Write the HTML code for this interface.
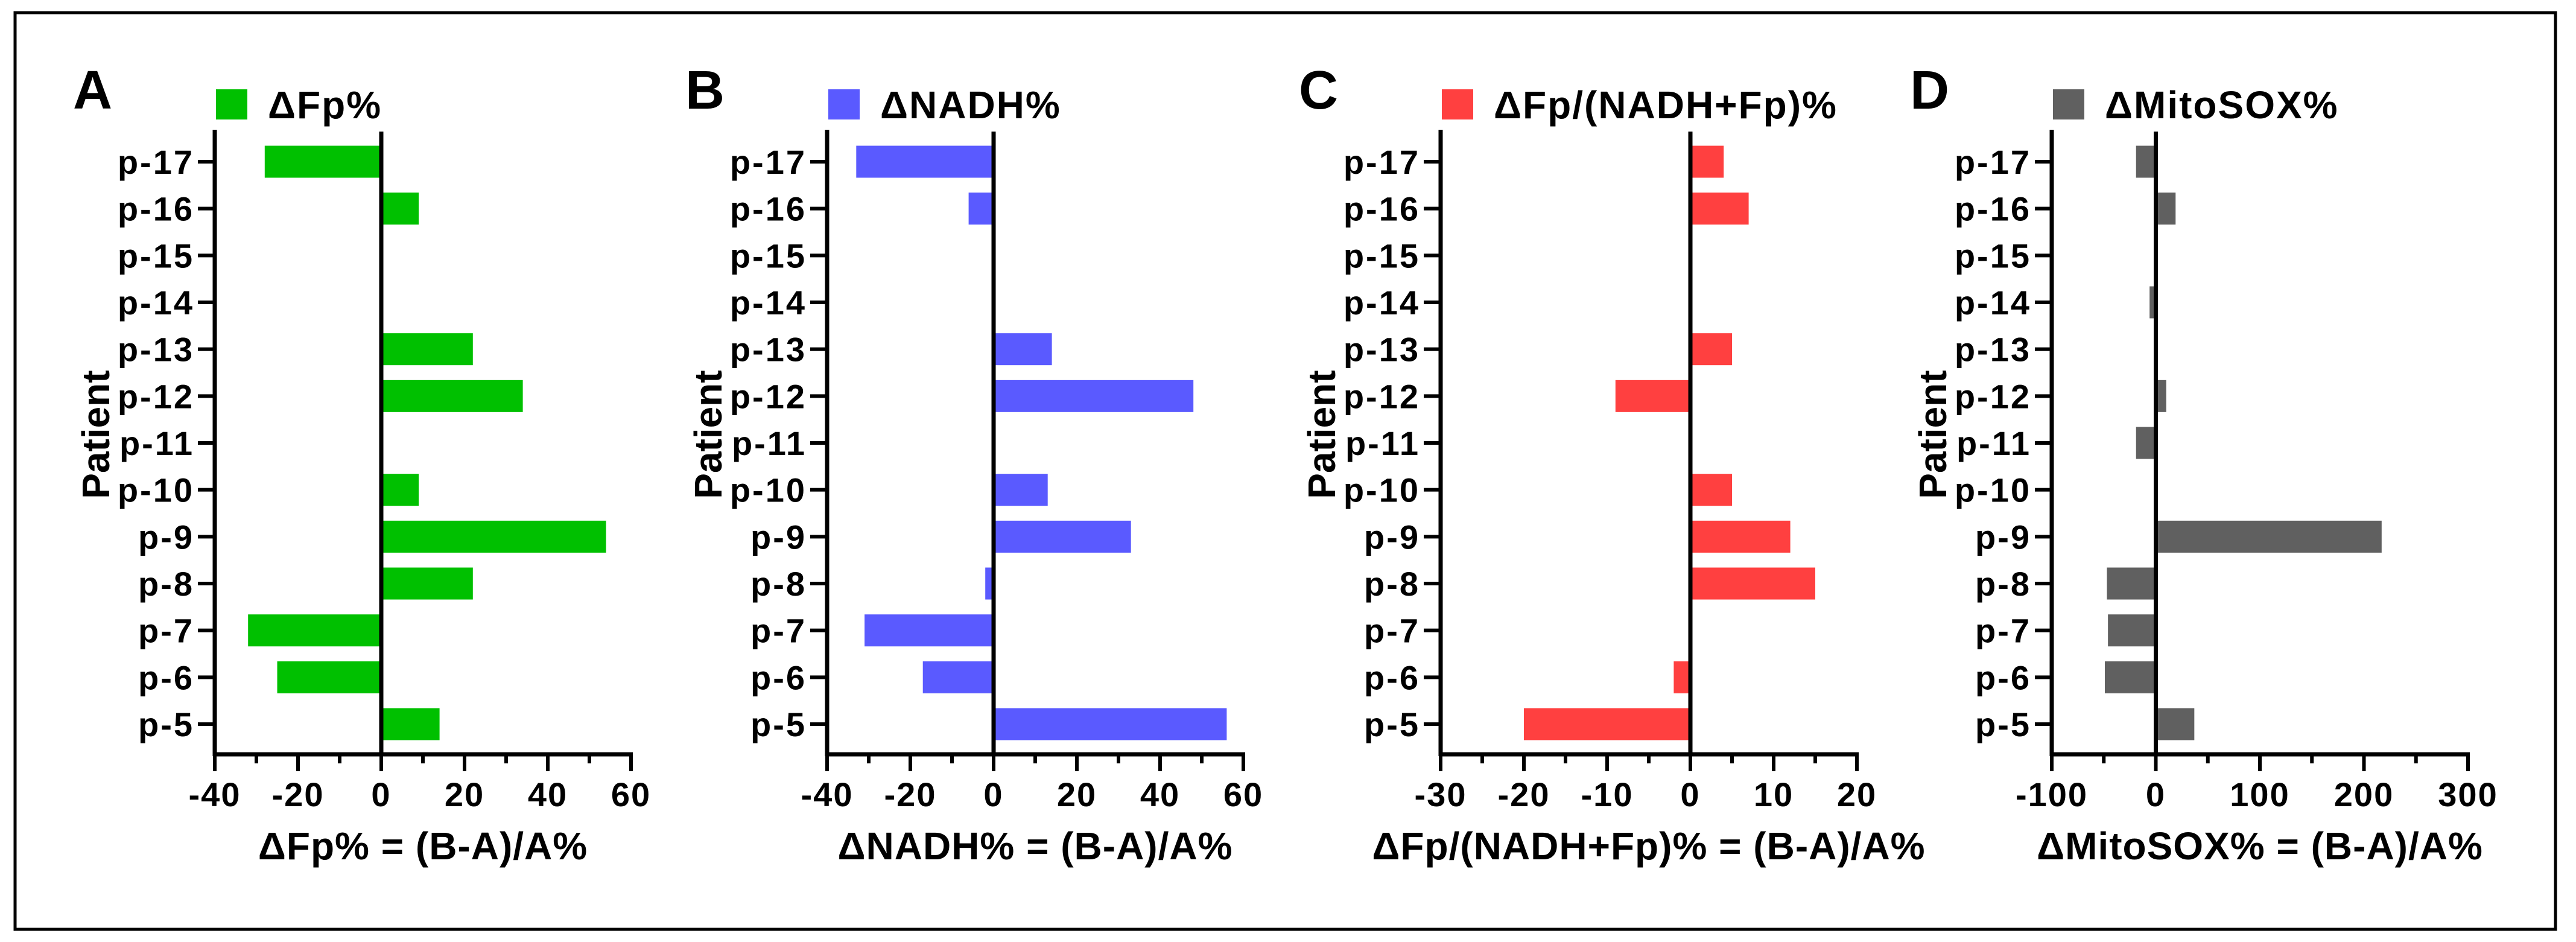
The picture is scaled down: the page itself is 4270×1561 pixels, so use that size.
<!DOCTYPE html>
<html><head><meta charset="utf-8"><style>
html,body{margin:0;padding:0;background:#fff;}
svg{display:block;font-family:"Liberation Sans",Arial,sans-serif;font-weight:bold;}
</style></head><body>
<svg id="fig" width="4270" height="1561" viewBox="0 0 4270 1561" xmlns="http://www.w3.org/2000/svg">
<rect x="25" y="21" width="4211" height="1519" fill="#fff" stroke="#000" stroke-width="5"/>
</svg>
<script>
const categories = ["p-5","p-6","p-7","p-8","p-9","p-10","p-11","p-12","p-13","p-14","p-15","p-16","p-17"];
const valuesFp = [14,-25,-32,22,54,9,null,34,22,null,null,9,-28];
const valuesNADH = [56,-17,-31,-2,33,13,null,48,14,null,null,-6,-33];
const valuesRatio = [-20,-2,null,15,12,5,null,-9,5,null,null,7,4];
const valuesMito = [37,-49,-46,-47,217,null,-19,10,-2,-6,null,19,-19];
const ticksA = [-40,-20,0,20,40,60];
const ticksB = [-40,-20,0,20,40,60];
const ticksC = [-30,-20,-10,0,10,20];
const ticksD = [-100,0,100,200,300];

const NS = "http://www.w3.org/2000/svg";
const svg = document.getElementById('fig');
function mk(tag, attrs, parent){
  const e = document.createElementNS(NS, tag);
  for (const k in attrs) e.setAttribute(k, attrs[k]);
  (parent||svg).appendChild(e);
  return e;
}
const panels = [
  {id:'a', letter:'A', ax:356, values:valuesFp, ticks:ticksA, color:'#00c000', legend:'ΔFp%', title:'ΔFp% = (B-A)/A%'},
  {id:'b', letter:'B', ax:1371, values:valuesNADH, ticks:ticksB, color:'#5a5aff', legend:'ΔNADH%', title:'ΔNADH% = (B-A)/A%'},
  {id:'c', letter:'C', ax:2388, values:valuesRatio, ticks:ticksC, color:'#ff4040', legend:'ΔFp/(NADH+Fp)%', title:'ΔFp/(NADH+Fp)% = (B-A)/A%'},
  {id:'d', letter:'D', ax:3401, values:valuesMito, ticks:ticksD, color:'#606060', legend:'ΔMitoSOX%', title:'ΔMitoSOX% = (B-A)/A%'}
];
const W = 690, axisY = 1250, topY = 215;
const yTop = 268, yBot = 1200;
panels.forEach(p => {
  const g = mk('g', {});
  
  
  const t0 = p.ticks[0], t1 = p.ticks[p.ticks.length-1];
  const xs = v => p.ax + (v - t0) / (t1 - t0) * W;
  const ys = i => yBot - i * (yBot - yTop) / (categories.length - 1);
  // letter
  const L = mk('text', {x:p.ax-235, y:180, 'font-size':90}, g); L.textContent = p.letter;
  
  
  // legend
  const ls = mk('rect', {x:p.ax+2, y:148, width:52, height:50, fill:p.color}, g);
  
  
  const lt = mk('text', {x:p.ax+88, y:196, 'font-size':64, 'letter-spacing':2}, g); lt.textContent = p.legend;
  
  
  // bars
  p.values.forEach((v, i) => {
    if (v === null) return;
    const x0 = xs(0), x1 = xs(v);
    const r = mk('rect', {x:Math.min(x0,x1), y:ys(i)-26.5, width:Math.abs(x1-x0), height:53, fill:p.color}, g);
    
    
  });
  // zero line
  const z = mk('line', {x1:xs(0), y1:218, x2:xs(0), y2:axisY, stroke:'#000', 'stroke-width':7}, g);
  
  
  // y axis
  const ya = mk('line', {x1:p.ax, y1:topY, x2:p.ax, y2:axisY+3, stroke:'#000', 'stroke-width':7}, g);
  
  
  categories.forEach((c, i) => {
    mk('line', {x1:p.ax-28, y1:ys(i), x2:p.ax, y2:ys(i), stroke:'#000', 'stroke-width':6}, g);
    const tl = mk('text', {x:p.ax-34, y:ys(i)+20, 'font-size':56, 'text-anchor':'end', 'letter-spacing':3}, g);
    tl.textContent = c;
    
    
  });
  // x axis
  const xa = mk('line', {x1:p.ax-3, y1:axisY, x2:p.ax+W+3, y2:axisY, stroke:'#000', 'stroke-width':7}, g);
  
  
  p.ticks.forEach((t, k) => {
    mk('line', {x1:xs(t), y1:axisY, x2:xs(t), y2:axisY+28, stroke:'#000', 'stroke-width':6}, g);
    if (k < p.ticks.length-1) {
      const m = (t + p.ticks[k+1]) / 2;
      mk('line', {x1:xs(m), y1:axisY, x2:xs(m), y2:axisY+15, stroke:'#000', 'stroke-width':6}, g);
    }
    const xl = mk('text', {x:xs(t), y:1336, 'font-size':56, 'text-anchor':'middle', 'letter-spacing':2}, g);
    xl.textContent = String(t);
    
    
  });
  const xt = mk('text', {x:p.ax+W/2, y:1424, 'font-size':64, 'text-anchor':'middle', 'letter-spacing':1}, g);
  xt.textContent = p.title;
  
  
  const yt = mk('text', {x:0, y:0, 'font-size':64, 'text-anchor':'middle', transform:'translate(' + (p.ax-175) + ',720) rotate(-90)'}, g);
  yt.textContent = 'Patient';
  
  
});
</script>
</body></html>
